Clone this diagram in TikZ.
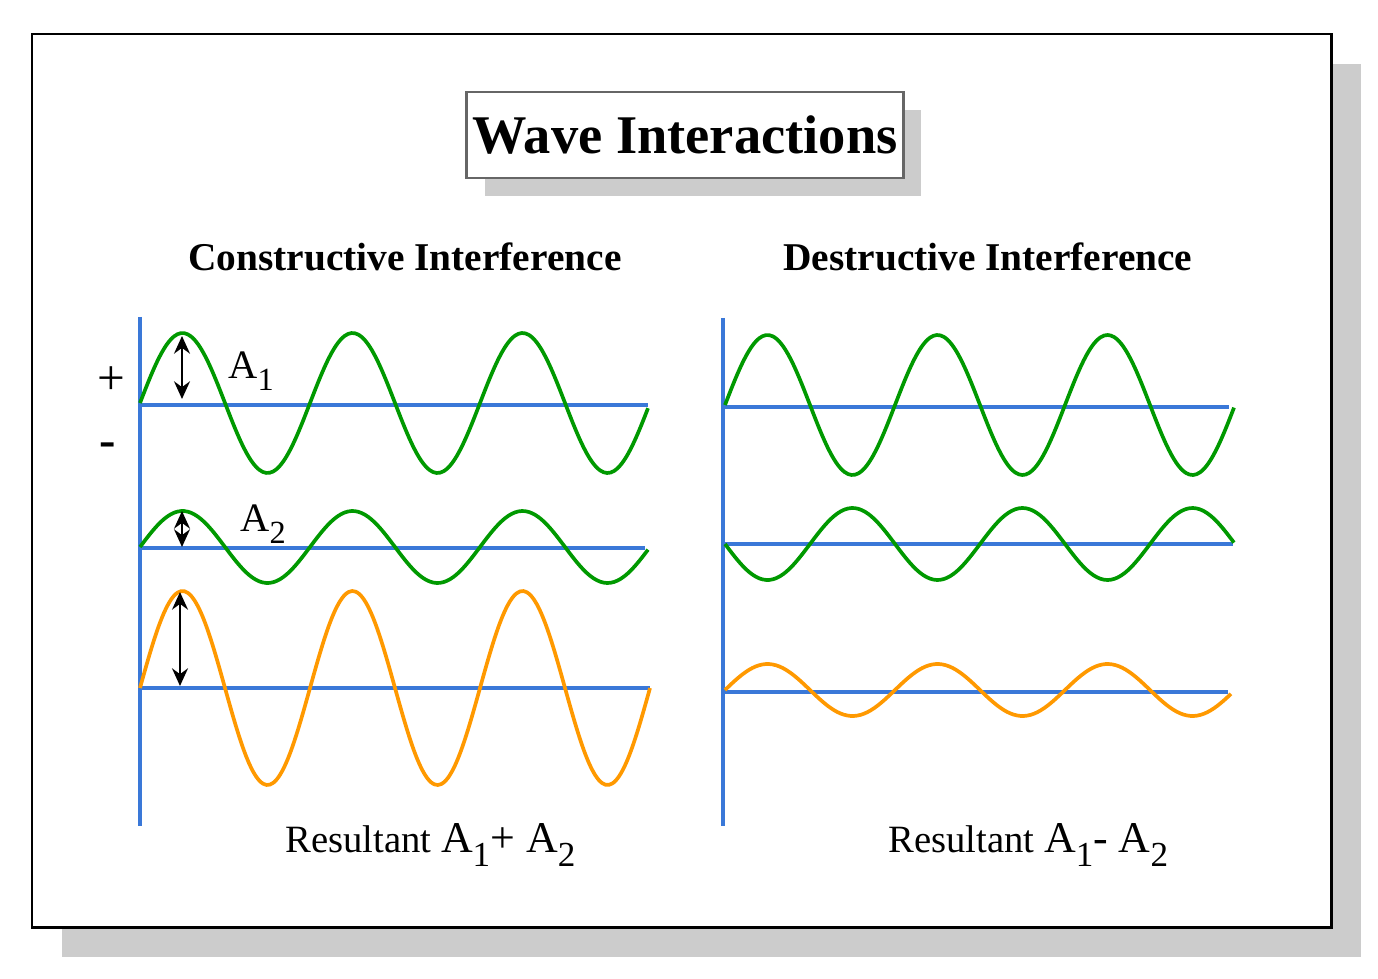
\documentclass[tikz,border=0pt]{standalone}
\usepackage{fontspec}
\usepackage{graphicx}
\setmainfont{Liberation Serif}
\usetikzlibrary{arrows.meta, calc, shadows}
\definecolor{AxisBlue}{HTML}{3A78D8}
\definecolor{WaveGreen}{HTML}{009900}
\definecolor{WaveOrange}{HTML}{FF9900}
\definecolor{ShadeGray}{HTML}{CCCCCC}
\definecolor{BoxGray}{HTML}{666666}
\newcommand{\lowsub}[1]{\raisebox{-0.32em}{\scalebox{0.8}{#1}}}

\begin{document}
\begin{tikzpicture}[x=0.02cm, y=-0.02cm,
  boxshadow/.style={drop shadow={shadow xshift=#1, shadow yshift=-#1,
    fill=ShadeGray, opacity=1}},
  axis/.style={AxisBlue, line width=2pt},
  wave/.style={WaveGreen, line width=2.1pt},
  res/.style={WaveOrange, line width=2.1pt},
  amp/.style={{Stealth[length=10pt, width=9pt]}-{Stealth[length=10pt, width=9pt]},
    line width=1.7pt},
  head/.style={font=\fontsize{22.4}{26}\selectfont\bfseries, anchor=base west, inner sep=0pt},
  lbl/.style={font=\fontsize{22}{26}\selectfont, anchor=base west, inner sep=0pt},
  sign/.style={font=\fontsize{28}{32}\selectfont, inner sep=0pt},
]
  \useasboundingbox (0,0) rectangle (1378,979);

  % Frame and title
  \draw[line width=1.7pt, fill=white, boxshadow=0.6cm] (32,34) rectangle (1331,927);
  \node[draw=BoxGray, line width=1.4pt, fill=white, boxshadow=0.36cm,
    minimum width=8.68cm, minimum height=1.72cm,
    font=\fontsize{31}{36}\selectfont\bfseries] (title) at (685,135) {Wave Interactions};

  \node[head] (cons) at (188,271) {Constructive Interference};
  \node[head] (dest) at (783,271) {Destructive Interference};

  % Constructive
  \draw[axis] (140,317) -- (140,826);
  \draw[axis] (140,405) -- (648,405);
  \draw[axis] (140,548) -- (645,548);
  \draw[axis] (140,688) -- (650,688);
  \draw[wave] plot[domain=0:508, samples=150, smooth] ({140+\x},{403-70*sin(2.1176*\x)});
  \draw[wave] plot[domain=0:508, samples=150, smooth] ({140+\x},{547-36*sin(2.1176*\x)});
  \draw[res] plot[domain=0:510, samples=150, smooth] ({140+\x},{688-97*sin(2.1176*\x)});

  \coordinate (a1t) at (182,336);
  \coordinate (a1b) at (182,399);
  \coordinate (a2t) at (182,511);
  \coordinate (a2b) at (182,547);
  \coordinate (a3t) at (180,592);
  \coordinate (a3b) at (180,686);
  \draw[amp] (a1t) -- (a1b);
  \draw[amp] (a2t) -- (a2b);
  \draw[amp] (a3t) -- (a3b);

  \node[lbl, font=\fontsize{23}{27}\selectfont] (a1) at (228,378) {A\lowsub{1}};
  \node[lbl, font=\fontsize{23}{27}\selectfont] (a2) at (240,531) {A\lowsub{2}};
  \node[sign] (plus) at (111,381) {+};
  \node[sign, font=\fontsize{28}{32}\selectfont\bfseries] (minus) at (108,450) {-};
  \node[lbl] (sum) at (285,852)
    {Resultant {\fontsize{25}{29}\selectfont A\lowsub{1}+ A\lowsub{2}}};

  % Destructive
  \draw[axis] (723,318) -- (723,826);
  \draw[axis] (723,407) -- (1229,407);
  \draw[axis] (723,544) -- (1233,544);
  \draw[axis] (723,692) -- (1228,692);
  \draw[wave] plot[domain=0:509, samples=150, smooth] ({725+\x},{405-70*sin(2.1176*\x)});
  \draw[wave] plot[domain=0:509, samples=150, smooth] ({725+\x},{544+36*sin(2.1176*\x)});
  \draw[res] plot[domain=0:506, samples=150, smooth] ({725+\x},{690-26*sin(2.1176*\x)});

  \node[lbl] (diff) at (888,852)
    {Resultant {\fontsize{25}{29}\selectfont A\lowsub{1}- A\lowsub{2}}};
\end{tikzpicture}
\end{document}
